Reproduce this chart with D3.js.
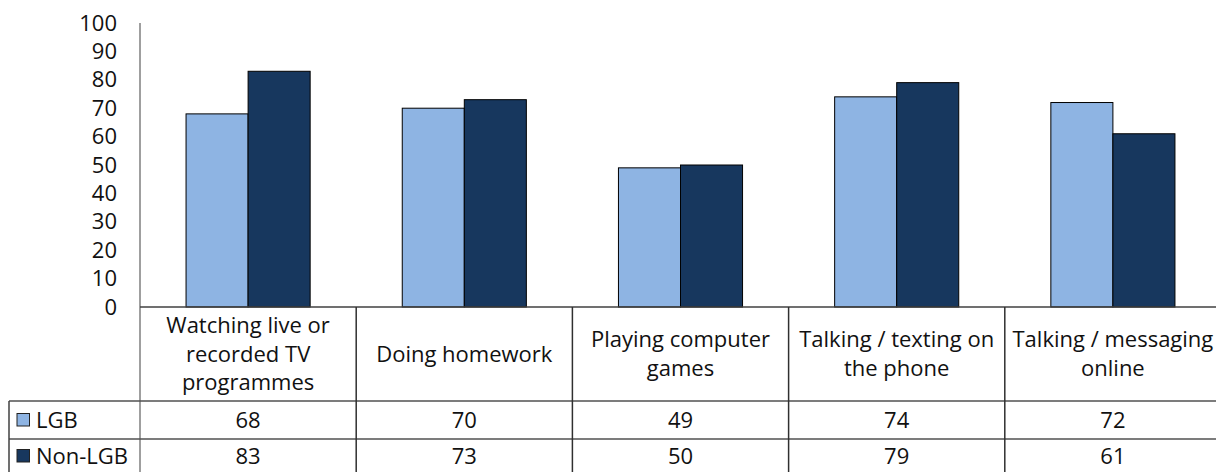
<!DOCTYPE html>
<html>
<head>
<meta charset="utf-8">
<script src="https://cdn.jsdelivr.net/npm/d3@7"></script>
<style>
  html, body { margin: 0; padding: 0; background: #fff; }
  svg { display: block; font-family: "Open Sans", Lato, sans-serif; }
</style>
</head>
<body>
<svg id="chart" width="1216" height="472"></svg>
<script>
// Activities and the share of each group doing them (%)
const categories = [
  ["Watching live or", "recorded TV", "programmes"],
  ["Doing homework"],
  ["Playing computer", "games"],
  ["Talking / texting on", "the phone"],
  ["Talking / messaging", "online"]
];
const seriesNames = ["LGB", "Non-LGB"];
const lgb = [68, 70, 49, 74, 72];
const nonLgb = [83, 73, 50, 79, 61];
const yTicks = [0, 10, 20, 30, 40, 50, 60, 70, 80, 90, 100];
const colors = ["#8EB4E3", "#17375E"];

const svg = d3.select("#chart");
const fontFamily = "'Open Sans', Lato, sans-serif";
const fontSize = 22;

const plotLeft = 140, plotRight = 1221;
const plotTop = 23, plotBottom = 307;
const headerBottom = 401, row1Bottom = 439, row2Bottom = 477;
const tableLeft = 9;

const x = d3.scaleBand()
  .domain(d3.range(categories.length))
  .range([plotLeft, plotRight])
  .paddingInner(0)
  .paddingOuter(0);

const barGroup = x.bandwidth() * 0.574;
const x1 = d3.scaleBand()
  .domain(d3.range(seriesNames.length))
  .range([0, barGroup]);

const y = d3.scaleLinear().domain([0, 100]).range([plotBottom, plotTop]);

// Y axis labels
const yAxis = d3.axisLeft(y).tickValues(yTicks).tickSize(0).tickPadding(23);
const gy = svg.append("g").attr("transform", `translate(${plotLeft},0)`).call(yAxis);
gy.select(".domain").remove();
gy.selectAll("text")
  .attr("font-family", fontFamily)
  .attr("font-size", fontSize)
  .attr("fill", "#111");

// Bars
const series = [lgb, nonLgb];
series.forEach((vals, si) => {
  svg.append("g").selectAll("rect")
    .data(vals)
    .join("rect")
    .attr("x", (d, i) => x(i) + (x.bandwidth() - barGroup) / 2 + x1(si))
    .attr("y", d => y(d))
    .attr("width", x1.bandwidth())
    .attr("height", d => y(0) - y(d))
    .attr("fill", colors[si])
    .attr("stroke", "#000")
    .attr("stroke-width", 1);
});

// Table grid
const grid = svg.append("g").attr("fill", "none");
const hLine = (x0, x1_, yy, col) => grid.append("line")
  .attr("x1", x0).attr("x2", x1_).attr("y1", yy).attr("y2", yy)
  .attr("stroke", col).attr("stroke-width", 1.5);
const vLine = (xx, y0, y1_, col) => grid.append("line")
  .attr("x1", xx).attr("x2", xx).attr("y1", y0).attr("y2", y1_)
  .attr("stroke", col).attr("stroke-width", 1.5);

// value axis line
vLine(plotLeft, plotTop, row2Bottom, "#7f7f7f");
hLine(plotLeft, plotRight, plotBottom, "#404040");
hLine(tableLeft, plotRight, headerBottom, "#505050");
hLine(tableLeft, plotRight, row1Bottom, "#505050");
vLine(tableLeft, headerBottom, row2Bottom, "#404040");
d3.range(1, categories.length).forEach(i => vLine(x(i), plotBottom, row2Bottom, "#303030"));

// Header labels
const lineH = 28.5;
const headerMid = (plotBottom + headerBottom) / 2;
categories.forEach((lines, i) => {
  const cx = x(i) + x.bandwidth() / 2;
  const t = svg.append("text")
    .attr("text-anchor", "middle")
    .attr("font-family", fontFamily)
    .attr("font-size", fontSize)
    .attr("fill", "#111");
  lines.forEach((ln, li) => {
    t.append("tspan")
      .attr("x", cx)
      .attr("y", headerMid + (li - (lines.length - 1) / 2) * lineH)
      .attr("dy", "0.35em")
      .text(ln);
  });
});

// Data rows
const rowMids = [(headerBottom + row1Bottom) / 2, (row1Bottom + row2Bottom - 6) / 2 + 1];
series.forEach((vals, si) => {
  svg.append("g").selectAll("text")
    .data(vals)
    .join("text")
    .attr("x", (d, i) => x(i) + x.bandwidth() / 2)
    .attr("y", rowMids[si])
    .attr("dy", "0.35em")
    .attr("text-anchor", "middle")
    .attr("font-family", fontFamily)
    .attr("font-size", fontSize)
    .attr("fill", "#111")
    .text(d => d);

  // legend key
  svg.append("rect")
    .attr("x", 17).attr("y", rowMids[si] - 6.5)
    .attr("width", 12.5).attr("height", 12.5)
    .attr("fill", colors[si])
    .attr("stroke", "#222").attr("stroke-width", 1);
  svg.append("text")
    .attr("x", 36).attr("y", rowMids[si])
    .attr("dy", "0.35em")
    .attr("font-family", fontFamily)
    .attr("font-size", fontSize)
    .attr("fill", "#111")
    .text(seriesNames[si]);
});
</script>
</body>
</html>
